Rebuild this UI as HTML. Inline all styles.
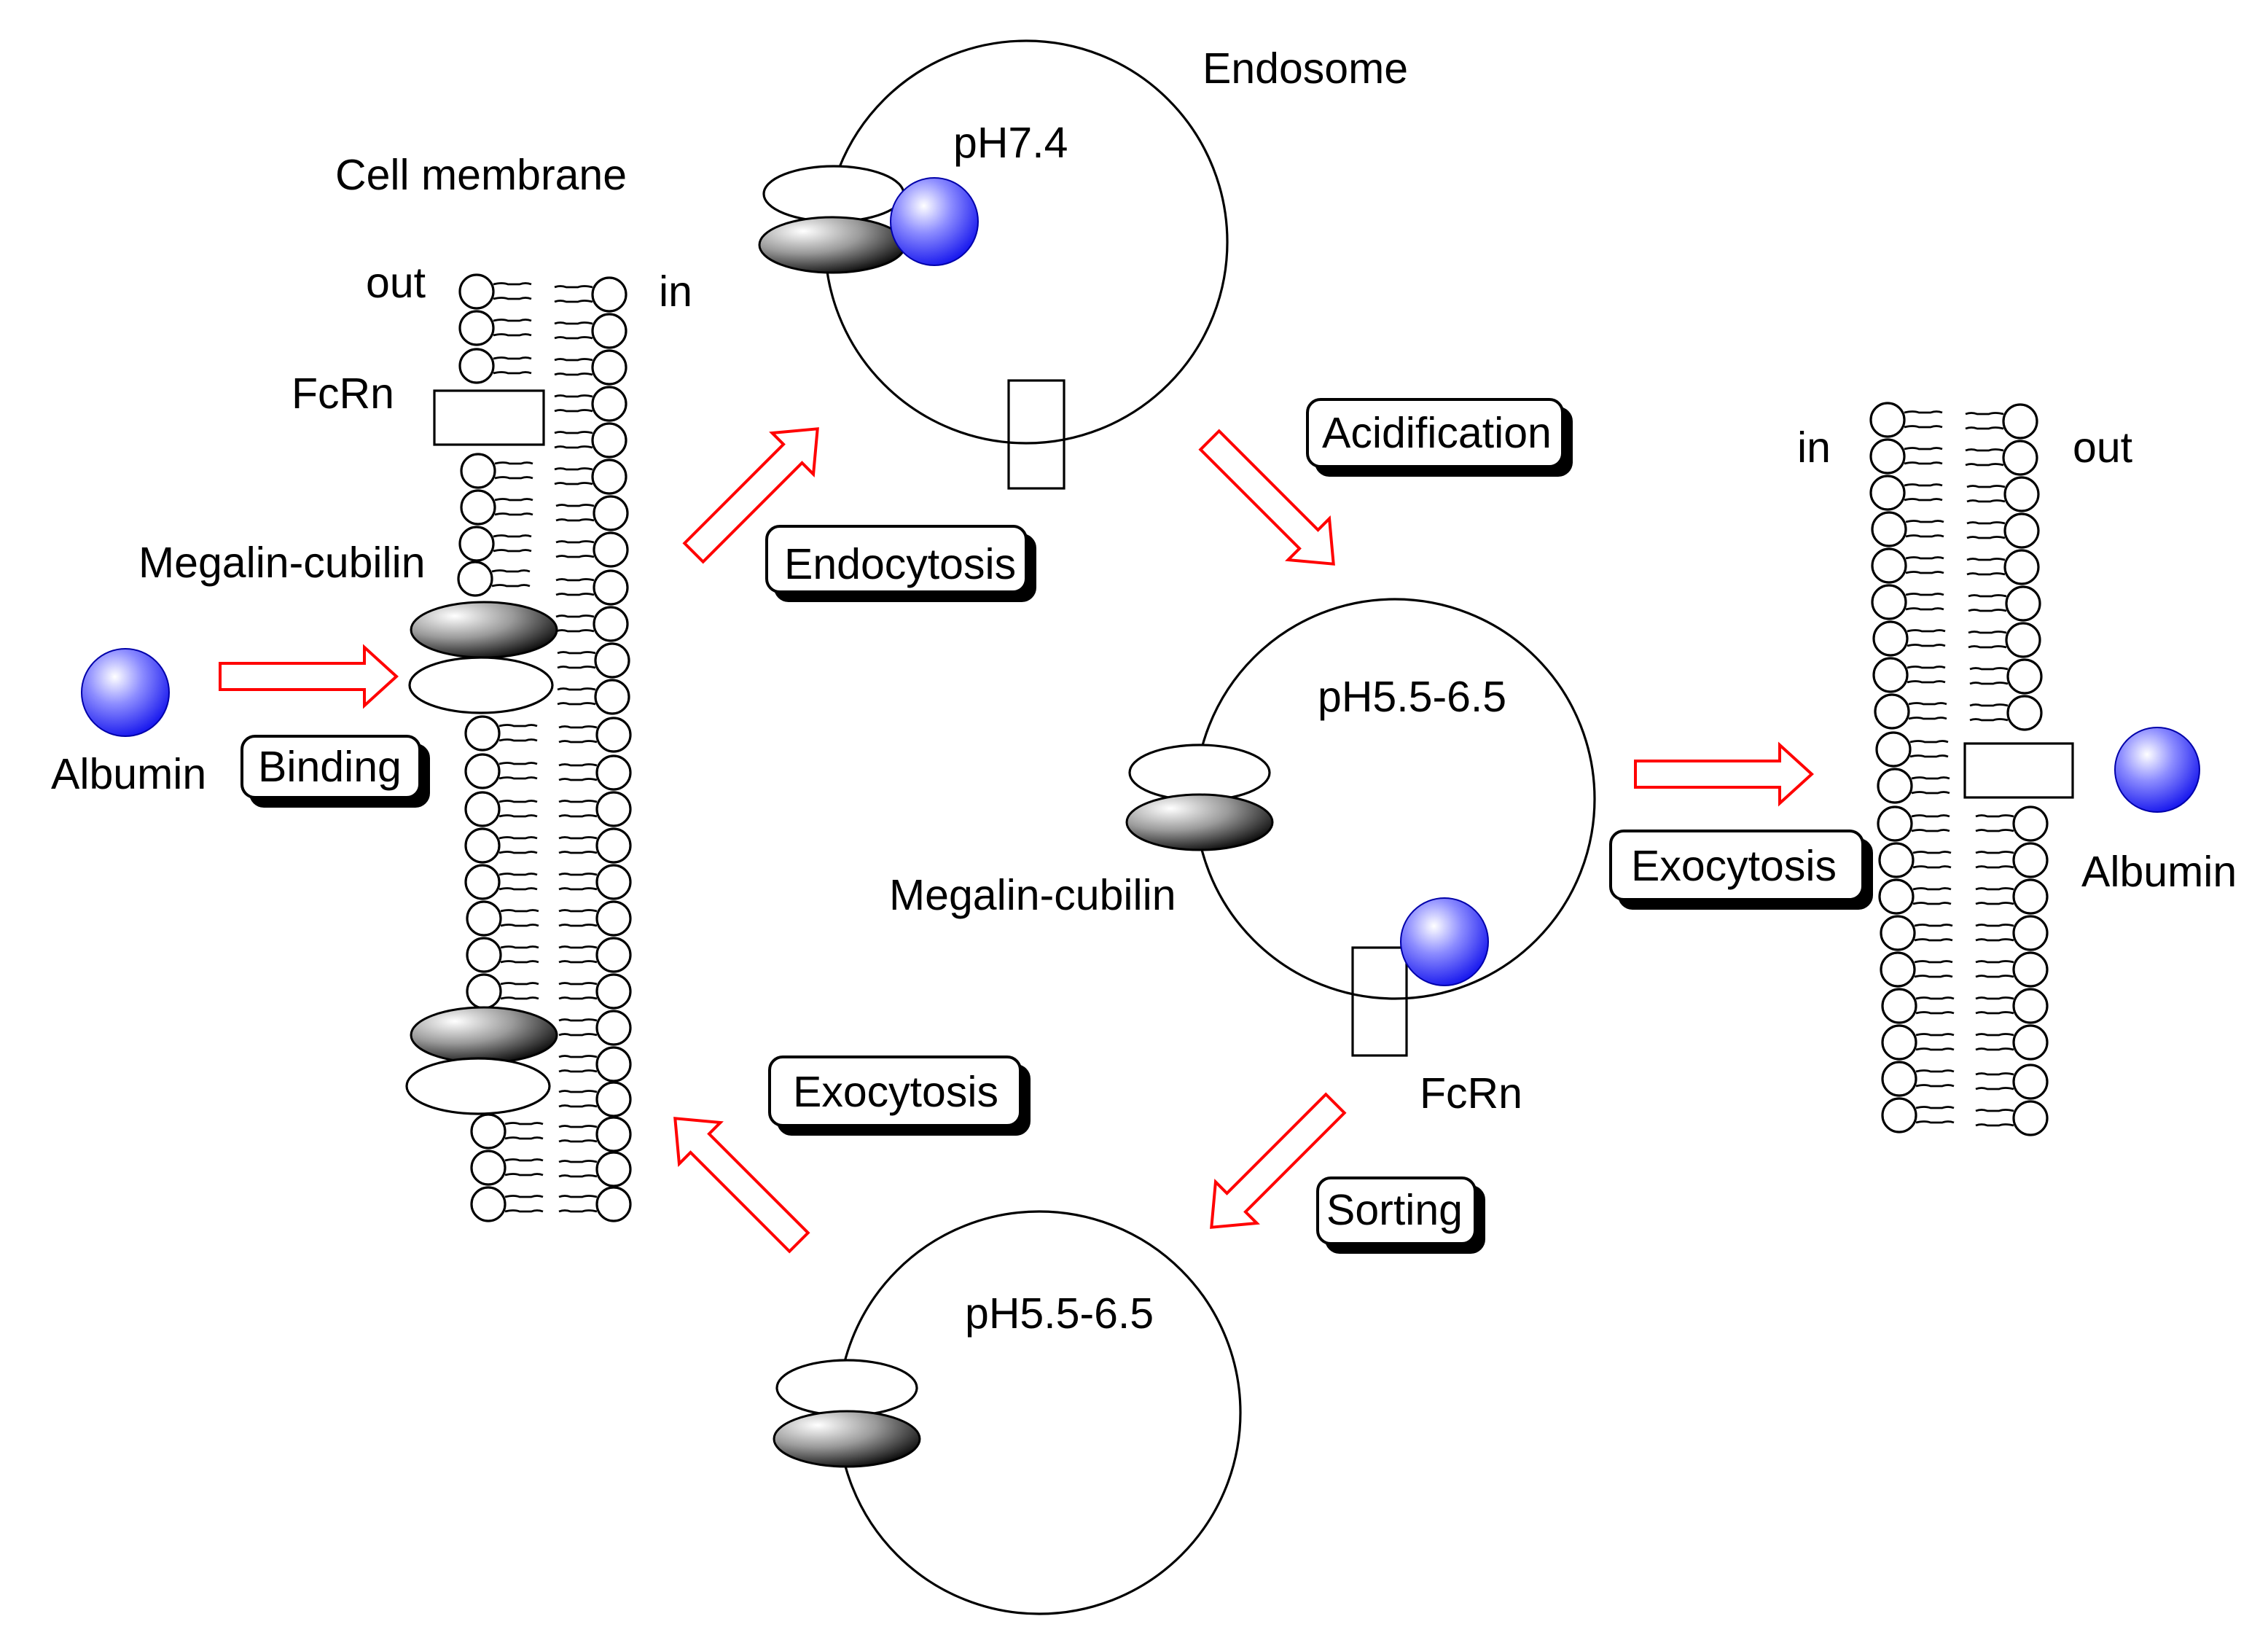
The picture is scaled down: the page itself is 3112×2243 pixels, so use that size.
<!DOCTYPE html>
<html><head><meta charset="utf-8"><style>
html,body{margin:0;padding:0;background:#fff}
svg{display:block}
text{font-family:"Liberation Sans",Arial,sans-serif;font-size:29.5px;fill:#000}
</style></head><body>
<svg width="3112" height="2243" viewBox="0 0 1556 1121.5" xmlns="http://www.w3.org/2000/svg">
<defs>
<radialGradient id="blue" cx="0.38" cy="0.32" r="0.7">
<stop offset="0" stop-color="#ffffff"/><stop offset="0.45" stop-color="#8c8cff"/><stop offset="1" stop-color="#1a1aee"/>
</radialGradient>
<radialGradient id="gray" cx="0.3" cy="0.25" r="0.8">
<stop offset="0" stop-color="#ffffff"/><stop offset="0.5" stop-color="#9a9a9a"/><stop offset="1" stop-color="#111"/>
</radialGradient>
<g id="lip">
<circle cx="0" cy="0" r="11.5" fill="#fff" stroke="#000" stroke-width="1.6"/>
<path d="M11.5,-5 q6,-1.5 10,0 l8,0 q4,-1.5 8,0 M11.5,5 q6,-1.5 10,0 l8,0 q4,-1.5 8,0" fill="none" stroke="#000" stroke-width="1.4"/>
</g>
<g id="lipR"><use href="#lip" transform="scale(-1,1)"/></g>
</defs>

<g>
<use href="#lip" x="327" y="200"/><use href="#lip" x="327" y="225"/><use href="#lip" x="327" y="251"/>
<use href="#lip" x="328" y="323"/><use href="#lip" x="328" y="348"/><use href="#lip" x="327" y="373"/><use href="#lip" x="326" y="397"/>
<use href="#lip" x="331" y="503"/><use href="#lip" x="331" y="529"/><use href="#lip" x="331" y="555"/><use href="#lip" x="331" y="580"/>
<use href="#lip" x="331" y="605"/><use href="#lip" x="332" y="630"/><use href="#lip" x="332" y="655"/><use href="#lip" x="332" y="680"/>
<use href="#lip" x="335" y="776"/><use href="#lip" x="335" y="801"/><use href="#lip" x="335" y="826"/>
</g>
<g>
<use href="#lipR" x="418" y="202"/><use href="#lipR" x="418" y="227"/><use href="#lipR" x="418" y="252"/><use href="#lipR" x="418" y="277"/>
<use href="#lipR" x="418" y="302"/><use href="#lipR" x="418" y="327"/><use href="#lipR" x="419" y="352"/><use href="#lipR" x="419" y="377"/>
<use href="#lipR" x="419" y="403"/><use href="#lipR" x="419" y="428"/><use href="#lipR" x="420" y="453"/><use href="#lipR" x="420" y="478"/>
<use href="#lipR" x="421" y="504"/><use href="#lipR" x="421" y="530"/><use href="#lipR" x="421" y="555"/><use href="#lipR" x="421" y="580"/>
<use href="#lipR" x="421" y="605"/><use href="#lipR" x="421" y="630"/><use href="#lipR" x="421" y="655"/><use href="#lipR" x="421" y="680"/>
<use href="#lipR" x="421" y="705"/><use href="#lipR" x="421" y="730"/><use href="#lipR" x="421" y="754"/><use href="#lipR" x="421" y="778"/>
<use href="#lipR" x="421" y="802"/><use href="#lipR" x="421" y="826"/>
</g>
<rect x="298" y="268" width="75" height="37" fill="#fff" stroke="#000" stroke-width="1.6"/>
<ellipse cx="332" cy="432" rx="50" ry="19" fill="url(#gray)" stroke="#000" stroke-width="1.5"/>
<ellipse cx="330" cy="470" rx="49" ry="19" fill="#fff" stroke="#000" stroke-width="1.6"/>
<ellipse cx="332" cy="710" rx="50" ry="19" fill="url(#gray)" stroke="#000" stroke-width="1.5"/>
<ellipse cx="328" cy="745" rx="49" ry="19" fill="#fff" stroke="#000" stroke-width="1.6"/>

<g>
<use href="#lip" x="1295" y="288"/><use href="#lip" x="1295" y="313"/><use href="#lip" x="1295" y="338"/><use href="#lip" x="1296" y="363"/>
<use href="#lip" x="1296" y="388"/><use href="#lip" x="1296" y="413"/><use href="#lip" x="1297" y="438"/><use href="#lip" x="1297" y="463"/>
<use href="#lip" x="1298" y="488"/><use href="#lip" x="1299" y="514"/><use href="#lip" x="1300" y="539"/><use href="#lip" x="1300" y="565"/>
<use href="#lip" x="1301" y="590"/><use href="#lip" x="1301" y="615"/><use href="#lip" x="1302" y="640"/><use href="#lip" x="1302" y="665"/>
<use href="#lip" x="1303" y="690"/><use href="#lip" x="1303" y="715"/><use href="#lip" x="1303" y="740"/><use href="#lip" x="1303" y="765"/>
<use href="#lipR" x="1386" y="289"/><use href="#lipR" x="1386" y="314"/><use href="#lipR" x="1387" y="339"/><use href="#lipR" x="1387" y="364"/>
<use href="#lipR" x="1387" y="389"/><use href="#lipR" x="1388" y="414"/><use href="#lipR" x="1388" y="439"/><use href="#lipR" x="1389" y="464"/>
<use href="#lipR" x="1389" y="489"/>
<use href="#lipR" x="1393" y="565"/><use href="#lipR" x="1393" y="590"/><use href="#lipR" x="1393" y="615"/><use href="#lipR" x="1393" y="640"/>
<use href="#lipR" x="1393" y="665"/><use href="#lipR" x="1393" y="690"/><use href="#lipR" x="1393" y="715"/><use href="#lipR" x="1393" y="742"/>
<use href="#lipR" x="1393" y="767"/>
</g>
<rect x="1348" y="510" width="74" height="37" fill="#fff" stroke="#000" stroke-width="1.6"/>

<circle cx="704" cy="166" r="138" fill="none" stroke="#000" stroke-width="1.6"/>
<circle cx="957" cy="548" r="137" fill="none" stroke="#000" stroke-width="1.6"/>
<circle cx="713" cy="969" r="138" fill="none" stroke="#000" stroke-width="1.6"/>

<ellipse cx="572" cy="133" rx="48" ry="19" fill="#fff" stroke="#000" stroke-width="1.6"/>
<ellipse cx="571" cy="168" rx="50" ry="19" fill="url(#gray)" stroke="#000" stroke-width="1.5"/>
<ellipse cx="823" cy="530" rx="48" ry="19" fill="#fff" stroke="#000" stroke-width="1.6"/>
<ellipse cx="823" cy="564" rx="50" ry="19" fill="url(#gray)" stroke="#000" stroke-width="1.5"/>
<ellipse cx="581" cy="952" rx="48" ry="19" fill="#fff" stroke="#000" stroke-width="1.6"/>
<ellipse cx="581" cy="987" rx="50" ry="19" fill="url(#gray)" stroke="#000" stroke-width="1.5"/>

<rect x="692" y="261" width="38" height="74" fill="none" stroke="#000" stroke-width="1.6"/>
<rect x="928" y="650" width="37" height="74" fill="none" stroke="#000" stroke-width="1.6"/>

<circle cx="86" cy="475" r="30" fill="url(#blue)" stroke="#0000aa" stroke-width="1"/>
<circle cx="641" cy="152" r="30" fill="url(#blue)" stroke="#0000aa" stroke-width="1"/>
<circle cx="991" cy="646" r="30" fill="url(#blue)" stroke="#0000aa" stroke-width="1"/>
<circle cx="1480" cy="528" r="29" fill="url(#blue)" stroke="#0000aa" stroke-width="1"/>

<g fill="#fff" stroke="#f00" stroke-width="2">
<polygon transform="translate(151,464)" points="0,-9 99,-9 99,-20 121,0 99,20 99,9 0,9"/>
<polygon transform="translate(1122,531)" points="0,-9 99,-9 99,-20 121,0 99,20 99,9 0,9"/>
<polygon transform="translate(476,379) rotate(-45)" points="0,-9 96,-9 96,-20 120,0 96,20 96,9 0,9"/>
<polygon transform="translate(830,302) rotate(45)" points="0,-9 96,-9 96,-20 120,0 96,20 96,9 0,9"/>
<polygon transform="translate(916,757) rotate(135)" points="0,-9 96,-9 96,-20 120,0 96,20 96,9 0,9"/>
<polygon transform="translate(548,852) rotate(-135)" points="0,-9 96,-9 96,-20 120,0 96,20 96,9 0,9"/>
</g>

<g stroke="#000" stroke-width="2">
<rect x="172" y="511" width="122" height="42" rx="9" fill="#000"/>
<rect x="166" y="505" width="122" height="42" rx="9" fill="#fff"/>
<rect x="532" y="367" width="178" height="45" rx="9" fill="#000"/>
<rect x="526" y="361" width="178" height="45" rx="9" fill="#fff"/>
<rect x="903" y="280" width="175" height="46" rx="9" fill="#000"/>
<rect x="897" y="274" width="175" height="46" rx="9" fill="#fff"/>
<rect x="1111" y="576" width="173" height="47" rx="9" fill="#000"/>
<rect x="1105" y="570" width="173" height="47" rx="9" fill="#fff"/>
<rect x="534" y="731" width="172" height="47" rx="9" fill="#000"/>
<rect x="528" y="725" width="172" height="47" rx="9" fill="#fff"/>
<rect x="910" y="814" width="108" height="45" rx="9" fill="#000"/>
<rect x="904" y="808" width="108" height="45" rx="9" fill="#fff"/>
</g>
<text x="177" y="536">Binding</text>
<text x="538" y="397">Endocytosis</text>
<text x="907" y="307">Acidification</text>
<text x="1119" y="604">Exocytosis</text>
<text x="544" y="759">Exocytosis</text>
<text x="910" y="840">Sorting</text>

<text x="230" y="130">Cell membrane</text>
<text x="251" y="204">out</text>
<text x="452" y="210">in</text>
<text x="200" y="280">FcRn</text>
<text x="95" y="396">Megalin-cubilin</text>
<text x="35" y="541">Albumin</text>
<text x="825" y="57">Endosome</text>
<text x="654" y="108">pH7.4</text>
<text x="904" y="488">pH5.5-6.5</text>
<text x="610" y="624">Megalin-cubilin</text>
<text x="974" y="760">FcRn</text>
<text x="662" y="911">pH5.5-6.5</text>
<text x="1233" y="317">in</text>
<text x="1422" y="317">out</text>
<text x="1428" y="608">Albumin</text>
</svg>
</body></html>
